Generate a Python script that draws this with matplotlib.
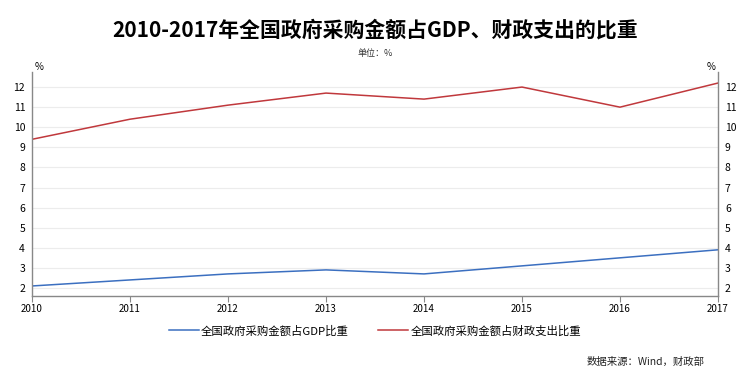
import matplotlib
matplotlib.use('Agg')
import matplotlib.pyplot as plt

plt.rcParams['font.family'] = ['Noto Sans CJK SC', 'DejaVu Sans']

# 数据
years = [2010, 2011, 2012, 2013, 2014, 2015, 2016, 2017]
gdp_ratio = [2.1, 2.4, 2.7, 2.9, 2.7, 3.1, 3.5, 3.9]
fiscal_ratio = [9.4, 10.4, 11.1, 11.7, 11.4, 12.0, 11.0, 12.2]
yticks = list(range(2, 13))

fig = plt.figure(figsize=(7.5, 3.73), dpi=100)
ax = fig.add_axes([0.0427, 0.2064, 0.9146, 0.6006])

ax.plot(years, gdp_ratio, color='#3b6fc0', lw=1.1, label='全国政府采购金额占GDP比重')
ax.plot(years, fiscal_ratio, color='#c0383c', lw=1.1, label='全国政府采购金额占财政支出比重')

ax.set_xlim(2010, 2017)
ax.set_ylim(1.6, 12.75)
ax.set_xticks(years)
ax.set_yticks(yticks)
ax.grid(axis='y', color='#ececec', lw=0.8)
ax.set_axisbelow(True)

for s in ['left', 'right', 'bottom']:
    ax.spines[s].set_color('#888888')
    ax.spines[s].set_linewidth(1.0)
ax.spines['top'].set_visible(False)

ax.tick_params(axis='x', labelsize=7, length=4, color='#888888', pad=2)
ax.tick_params(axis='y', labelsize=7.5, length=0, pad=5, labelright=True)

ax.text(0.004, 1.0, '%', transform=ax.transAxes, fontsize=7, ha='left', va='bottom')
ax.text(0.996, 1.0, '%', transform=ax.transAxes, fontsize=7, ha='right', va='bottom')

fig.text(0.5, 0.92, '2010-2017年全国政府采购金额占GDP、财政支出的比重',
         fontsize=15, fontweight='bold', ha='center', va='center')
fig.text(0.5, 0.857, '单位：%', fontsize=6.5, ha='center', va='center', color='#333333')

ax.legend(loc='center', bbox_to_anchor=(0.5, -0.155), ncol=2, frameon=False,
          fontsize=8.2, handlelength=2.6, columnspacing=2.6, handletextpad=0.2)

fig.text(0.94, 0.03, '数据来源：Wind，财政部', fontsize=7.5, style='italic',
         ha='right', va='center', color='#222222')

fig.savefig('out.png', dpi=100)
